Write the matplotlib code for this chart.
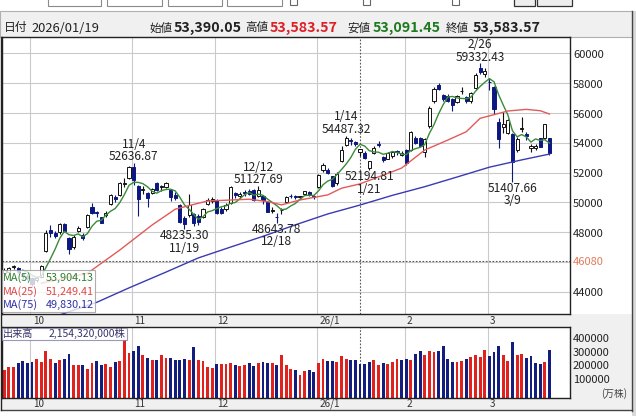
import numpy as np
import pandas as pd
import matplotlib
matplotlib.use('Agg')
import matplotlib.pyplot as plt
from matplotlib.patches import Rectangle
import matplotlib.transforms as mtransforms

plt.rcParams['font.family'] = ['Noto Sans CJK JP', 'DejaVu Sans']

# ---------------- data ----------------
dates = ['09/22', '09/24', '09/25', '09/26', '09/29', '09/30',
         '10/01', '10/02', '10/03', '10/06', '10/07', '10/08', '10/09', '10/10', '10/14', '10/15', '10/16',
         '10/17', '10/20', '10/21', '10/22', '10/23', '10/24', '10/27', '10/28', '10/29', '10/30', '10/31',
         '11/04', '11/05', '11/06', '11/07', '11/10', '11/11', '11/12', '11/13', '11/14', '11/17', '11/18',
         '11/19', '11/20', '11/21', '11/25', '11/26', '11/27', '11/28',
         '12/01', '12/02', '12/03', '12/04', '12/05', '12/08', '12/09', '12/10', '12/11', '12/12', '12/15',
         '12/16', '12/17', '12/18', '12/19', '12/22', '12/23', '12/24', '12/25', '12/26', '12/29', '12/30',
         '01/05', '01/06', '01/07', '01/08', '01/09', '01/13', '01/14', '01/15', '01/16', '01/19', '01/20',
         '01/21', '01/22', '01/23', '01/26', '01/27', '01/28', '01/29', '01/30',
         '02/02', '02/03', '02/04', '02/05', '02/06', '02/09', '02/10', '02/12', '02/13', '02/16', '02/17',
         '02/18', '02/19', '02/20', '02/24', '02/25', '02/26', '02/27',
         '03/02', '03/03', '03/04', '03/05', '03/06', '03/09', '03/10', '03/11', '03/12', '03/13', '03/16',
         '03/17', '03/18', '03/19']

opens = [45300, 45350, 45700, 45600, 45200, 45100,
         44900, 44800, 45000, 46750, 48150, 47950, 48000, 48550, 47600, 47000, 48100,
         47800, 48350, 49700, 49330, 49000, 49150, 49900, 50370, 50500, 51250, 51650,
         52400, 51100, 50850, 50630, 50650, 51300, 51050, 51050, 50830, 50500, 49840,
         48960, 49160, 49200, 49100, 49020, 49900, 50100,
         50200, 49550, 49570, 49970, 50640, 50450, 50730, 50800, 50840, 50440, 50440,
         50040, 49430, 49050, 49500, 50040, 50450, 50420, 50350, 50570, 50700, 50450,
         51040, 52170, 52170, 51770, 51300, 52790, 53860, 54200, 54050, 53390.05, 53320,
         52300, 53320, 53950, 53050, 52950, 53100, 53450, 53200,
         53520, 53520, 54320, 54320, 53390, 55130, 56830, 57890, 57220, 57150, 56950,
         56770, 57450, 57060, 56800, 57670, 59000, 58600,
         58100, 57770, 55420, 55100, 54660, 54580, 53520, 54920, 54600, 53650, 53650,
         54310, 54310, 54310]

highs = [45600, 45690, 45800, 45650, 45300, 45200,
         45000, 45100, 45800, 48150, 48500, 48100, 48600, 48600, 47700, 47800, 48400,
         47950, 49230, 49950, 49450, 49050, 49400, 50550, 50500, 51350, 51650, 52450,
         52636.87, 51150, 51100, 50700, 51000, 51350, 51200, 51350, 50900, 50700, 49900,
         49100, 50550, 49300, 49200, 49650, 50300, 50350,
         50250, 49700, 49950, 51100, 50700, 50700, 50850, 50900, 50900, 51127.69, 50500,
         50100, 49700, 49300, 49650, 50450, 50550, 50480, 50450, 50800, 50750, 50500,
         51900, 52650, 52300, 51800, 52050, 53800, 54487.32, 54300, 54150, 53583.57, 53450,
         52800, 53800, 54150, 53150, 53400, 53450, 53550, 53450,
         53600, 54800, 54450, 54400, 54300, 56500, 57750, 58000, 57300, 57250, 57000,
         57200, 57750, 57150, 57400, 58700, 59332.43, 59000,
         58350, 57850, 55700, 56100, 55600, 54650, 54400, 55720, 54700, 53950, 53900,
         54350, 55300, 54350]

lows = [45250, 45280, 45550, 45300, 44850, 44800,
        44400, 44650, 44950, 46650, 47700, 47600, 47900, 48000, 46540, 46900, 48000,
        47500, 48300, 49200, 49050, 48600, 49050, 49850, 50050, 50450, 51050, 51600,
        51200, 49074, 50600, 49700, 50550, 50800, 50800, 50950, 50100, 50150, 48600,
        48235.30, 49050, 48450, 48500, 48950, 49800, 49950,
        49250, 49200, 49450, 49900, 50300, 50300, 50450, 50500, 50100, 50400, 49900,
        49350, 49300, 48643.78, 49250, 49950, 50300, 50250, 50250, 50500, 50450, 50250,
        50950, 52050, 51900, 51050, 51200, 52700, 53800, 53850, 53800, 53091.45, 52900,
        52194.81, 53250, 53700, 52700, 52900, 53000, 53200, 53150,
        52550, 53450, 53900, 53700, 53070, 55000, 56700, 57550, 56800, 56750, 56160,
        56650, 57300, 56700, 56700, 57600, 58600, 58450,
        57550, 55950, 53660, 54640, 54600, 51407.66, 53400, 54750, 54200, 53400, 53500,
        53700, 54250, 53190]

closes = [45493, 45630, 45754, 45355, 45043, 44932,
          44550, 44936, 45769, 47944, 47950, 47734, 48580, 48088, 46847, 47672, 48277,
          47600, 49185, 49316, 49307, 48641, 49299, 50512, 50219, 51307, 51325, 52411,
          51497, 50212, 50883, 50276, 50911, 50842, 51063, 51281, 50376, 50323, 48702,
          48537, 49823, 48625, 48659, 49559, 50167, 50253,
          49303, 49310, 49864, 51028, 50491, 50581, 50655, 50602, 50148, 50836, 50168,
          49383, 49512, 49001, 49507, 50402, 50412, 50344, 50408, 50750, 50526, 50339,
          51832, 52518, 51961, 51117, 51939, 53549, 54341, 54110, 53936, 53583.57, 52991,
          52774, 53688, 53846, 52885, 53333, 53358, 53375, 53322,
          52655, 54720, 53990, 53818, 54253, 56363, 57650, 57630, 56941, 56806, 56566,
          57143, 57467, 56825, 57321, 58583, 58753, 58850,
          58057, 56279, 54245, 55278, 55530, 52728, 54248, 55025, 54452, 53819, 53780,
          53750, 55250, 53340]

prev_close = 45045  # close of the session before the first visible candle

# volume in 万株
volumes = [173000, 192400, 192400, 221700, 238700, 221700,
           228900, 253300, 228900, 311700, 253300, 221700, 246000, 253300, 287300, 209500, 209500,
           209500, 180300, 221700, 238700, 209500, 214400, 197300, 228900, 238700, 392000, 294600,
           311700, 348200, 282500, 258100, 246000, 246000, 282500, 258100, 258100, 246000, 246000,
           250800, 246000, 338400, 246000, 238700, 197300, 190000,
           214400, 216800, 216800, 221700, 209500, 202200, 209500, 221700, 202200, 221700, 228900,
           226500, 221700, 209500, 282500, 209500, 180300, 173000, 136500, 165700, 173000, 155900,
           221700, 253300, 238700, 238700, 233800, 275200, 253300, 246000, 246000, 215432, 216800,
           231400, 246000, 209500, 221700, 216800, 233800, 253300, 246000,
           253300, 246000, 289800, 314100, 282500, 314100, 301900, 314100, 348200, 253300, 233800,
           233800, 238700, 253300, 265400, 282500, 265400, 319000,
           275200, 301900, 348200, 282500, 241100, 379800, 282500, 287300, 258100, 275200, 221700,
           216800, 233800, 319000]

ma25_dates = ['10/03', '10/20', '10/29', '11/10', '11/17', '11/25', '11/27', '12/10', '12/16', '12/19',
              '12/25', '01/07', '01/13', '01/19', '01/28', '01/30', '02/06', '02/16', '02/20', '02/26',
              '03/06', '03/12', '03/17', '03/19']
ma25_vals = [44580, 45250, 46810, 48490, 49550, 49950, 50100, 50220, 50060, 49840,
             50170, 50510, 50960, 51249, 52070, 52310, 53520, 54190, 54750, 55650,
             56140, 56250, 56160, 55940]

ma75_dates = ['10/08', '10/22', '10/31', '11/13', '11/25', '12/04', '12/15', '12/24', '01/07', '01/19',
              '01/28', '02/06', '02/18', '03/02', '03/11', '03/19']
ma75_vals = [42350, 43300, 44270, 45330, 46280, 47010, 47730, 48500, 49230, 49830,
             50480, 51060, 51710, 52370, 52860, 53250]

ma_legend_names = ['MA(5)', 'MA(25)', 'MA(75)']
ma_legend_vals = ['53,904.13', '51,249.41', '49,830.12']

price_ticks = [44000, 46000, 48000, 50000, 52000, 54000, 56000, 58000, 60000]
price_ticks_shown = [44000, 48000, 50000, 52000, 54000, 56000, 58000, 60000]
ref_line = 46080
vol_ticks = [100000, 200000, 300000, 400000]

month_start_dates = ['10/01', '11/04', '12/01', '01/05', '02/02', '03/02']
month_labels = ['10', '11', '12', '26/1', '2', '3']

selected_date = '01/19'
selected_full = '2026/01/19'
high_mark_dates = ['11/04', '12/12', '01/14', '02/26']
low_mark_dates = ['11/19', '12/18', '01/21', '03/09']

# ---------------- styling ----------------
NAVY = '#0c1880'
VRED = '#e0221f'
VBLUE = '#121d7e'
GREEN = '#3a8a3a'
MRED = '#e25a5a'
MBLUE = '#3a3ab4'
GRID = '#cacaca'
TXT = '#222222'

W, H = 636, 416
fig = plt.figure(figsize=(W / 100, H / 100), dpi=100)
bg = fig.add_axes([0, 0, 1, 1], zorder=-10)
bg.set_xlim(0, W)
bg.set_ylim(H, 0)
bg.axis('off')


def fax(x0, y0, x1, y1):
    return fig.add_axes([x0 / W, 1 - y1 / H, (x1 - x0) / W, (y1 - y0) / H])


# chrome backgrounds
bg.add_patch(Rectangle((0, 11), 633, 26, facecolor='#f0f0f0', edgecolor='#b0b0b0', lw=0.8))
bg.add_patch(Rectangle((632, 11), 4, 405, facecolor='#d9d9d9', edgecolor='none'))
bg.plot([632, 632], [11, 411], color='#444', lw=1)
bg.add_patch(Rectangle((1, 314), 631, 13, facecolor='#f0f0f0', edgecolor='none'))
bg.add_patch(Rectangle((1, 398), 631, 12, facecolor='#f0f0f0', edgecolor='none'))
bg.add_patch(Rectangle((570, 327), 62, 71, facecolor='#f0f0f0', edgecolor='none'))
bg.plot([1, 632], [410, 410], color='#444', lw=1)
bg.plot([1, 1], [37, 410], color='#222', lw=1)
# cut-off UI controls on the top strip
for x0, x1 in [(48, 101), (107, 162), (168, 222), (227, 282)]:
    bg.add_patch(Rectangle((x0, -4), x1 - x0, 10, facecolor='white', edgecolor='#8a8a8a', lw=0.8))
for x0 in [290, 363, 452]:
    bg.add_patch(Rectangle((x0, -3), 7, 8, facecolor='white', edgecolor='#666', lw=0.8))
for x0, x1 in [(514, 535), (537, 572)]:
    bg.add_patch(Rectangle((x0, -4), x1 - x0, 10, facecolor='#eeeeee', edgecolor='#333', lw=0.9))

# ---------------- main price panel ----------------
n = len(closes)
xi = np.arange(n)
o = np.array(opens, float)
h = np.array(highs, float)
l = np.array(lows, float)
c = np.array(closes, float)
v = np.array(volumes, float)
idx = {d: k for k, d in enumerate(dates)}

XL = (-0.494, 122.45)
ax = fax(2, 37, 570, 314)
ax.set_xlim(*XL)
ax.set_ylim(42517, 61107)
ax.set_xticks([])
ax.set_yticks(price_ticks)
ax.tick_params(left=False, right=False, labelleft=False)
ax.grid(axis='y', color=GRID, lw=0.8)
for sp in ax.spines.values():
    sp.set_color('#222')
    sp.set_linewidth(1)
ax.set_axisbelow(True)

for d in month_start_dates:
    ax.axvline(idx[d] - 0.35, color=GRID, lw=0.8, zorder=0)
ax.axvline(idx[selected_date], color='#555', lw=0.8, ls=(0, (1.5, 1.5)), zorder=1)
ax.axhline(ref_line, color='#555', lw=0.8, ls=(0, (1.5, 1.5)), zorder=1)

bw = 0.68
for k in range(n):
    up = c[k] >= o[k]
    col = '#111' if up else NAVY
    ax.vlines(xi[k], l[k], h[k], color=col, lw=0.8, zorder=2)
    lo_b = min(o[k], c[k])
    hgt = max(abs(c[k] - o[k]), 25)
    ax.add_patch(Rectangle((xi[k] - bw / 2, lo_b), bw, hgt,
                           facecolor='white' if up else NAVY, edgecolor=col, lw=0.7, zorder=3))

ma5 = pd.Series(c).rolling(5).mean()
ax.plot(xi, ma5, color=GREEN, lw=1.0, zorder=4)
ax.plot([idx[d] for d in ma25_dates], ma25_vals, color=MRED, lw=1.0, zorder=4)
ax.plot([idx[d] for d in ma75_dates], ma75_vals, color=MBLUE, lw=1.0, zorder=4)


def md(dstr):
    m, d = dstr.split('/')
    return f'{int(m)}/{int(d)}'


for d in high_mark_dates:
    k = idx[d]
    ax.annotate(f'{md(d)}\n{h[k]:.2f}', xy=(k, h[k]), xytext=(0, 9.0), textcoords='offset points',
                ha='center', va='center', fontsize=8.6, color=TXT, zorder=6,
                linespacing=0.93, multialignment='center')
for d in low_mark_dates:
    k = idx[d]
    ax.annotate(f'{l[k]:.2f}\n{md(d)}', xy=(k, l[k]), xytext=(0, -9.4), textcoords='offset points',
                ha='center', va='center', fontsize=8.6, color=TXT, zorder=6,
                linespacing=0.93, multialignment='center')

# MA legend box (pixel coordinates)
ax.add_patch(Rectangle((2, 270), 93, 42, transform=bg.transData, facecolor='white', alpha=0.8,
                       edgecolor='#9a9a9a', lw=0.8, zorder=7, clip_on=False))
for r, (nm, val, col) in enumerate(zip(ma_legend_names, ma_legend_vals, ['#2f7f2f', '#e04848', '#3030a8'])):
    yy = 278 + r * 13.5
    ax.text(3, yy, nm, transform=bg.transData, fontsize=7.8, color=col, va='center', ha='left', zorder=8)
    ax.text(94, yy, val, transform=bg.transData, fontsize=7.8, color=col, va='center', ha='right', zorder=8)

# price labels (centred slightly below their grid line, as in the source)
shift = mtransforms.ScaledTranslation(0, -1.5 / 100, fig.dpi_scale_trans)
ptr = mtransforms.blended_transform_factory(bg.transData, ax.transData) + shift
for p in price_ticks_shown:
    bg.text(573, p, f'{p}', transform=ptr, fontsize=8, color=TXT, va='center', ha='left')
bg.text(573, ref_line, f'{ref_line}', transform=ptr, fontsize=8, color='#e27a5c', va='center', ha='left')

# ---------------- volume panel ----------------
axv = fax(2, 327, 570, 398)
VB = -31400
axv.set_xlim(*XL)
axv.set_ylim(VB, 486900)
axv.set_xticks([])
axv.set_yticks([])
for sp in axv.spines.values():
    sp.set_color('#222')
    sp.set_linewidth(1)
for d in month_start_dates:
    axv.axvline(idx[d] - 0.35, color=GRID, lw=0.8, zorder=0)
axv.axvline(idx[selected_date], color='#555', lw=0.8, ls=(0, (1.5, 1.5)), zorder=1)
prev = np.concatenate([[prev_close], c[:-1]])
vcol = [VRED if c[k] >= prev[k] else VBLUE for k in range(n)]
axv.bar(xi, v - VB, bottom=VB, width=0.62, color=vcol, zorder=2)

vtr = mtransforms.blended_transform_factory(bg.transData, axv.transData)
for t in vol_ticks:
    bg.text(573, t, f'{t}', transform=vtr, fontsize=8, color=TXT, va='center', ha='left')
bg.text(627, 393.5, '(万株)', fontsize=7, color='#444', va='center', ha='right')

ks = idx[selected_date]
axv.add_patch(Rectangle((2, 327.5), 125, 12, transform=bg.transData, facecolor='white', alpha=0.85,
                        edgecolor='#8888aa', lw=0.8, zorder=7, clip_on=False))
axv.text(3, 333.5, '出来高', transform=bg.transData, fontsize=7.3, color='#35356a', va='center', ha='left', zorder=8)
axv.text(125, 333.5, f'{int(v[ks] * 10000):,}株', transform=bg.transData, fontsize=7.5,
         color='#35356a', va='center', ha='right', zorder=8)

# month labels (two rows)
mtr = mtransforms.blended_transform_factory(ax.transData, bg.transData)
for d, lab in zip(month_start_dates, month_labels):
    for yy in (320.5, 404):
        bg.text(idx[d] + 0.15, yy, lab, transform=mtr, fontsize=7.2, color='#333', va='center', ha='left')

# ---------------- header ----------------
hy = 28
bg.text(4, hy, '日付', fontsize=8.5, color=TXT, va='center', ha='left')
bg.text(31, hy, selected_full, fontsize=9.3, color=TXT, va='center', ha='left')
items = [('始値', opens[ks], TXT, 150, 174), ('高値', highs[ks], '#dd1f26', 245, 270),
         ('安値', lows[ks], '#1f7a1f', 347, 373), ('終値', closes[ks], TXT, 446, 473)]
for lab, val, col, xl, xv in items:
    bg.text(xl, hy, lab, fontsize=8.3, color=TXT, va='center', ha='left')
    bg.text(xv, hy, f'{val:,.2f}', fontsize=10.3, fontweight='bold', color=col, va='center', ha='left')

fig.savefig('out.png', dpi=100)
